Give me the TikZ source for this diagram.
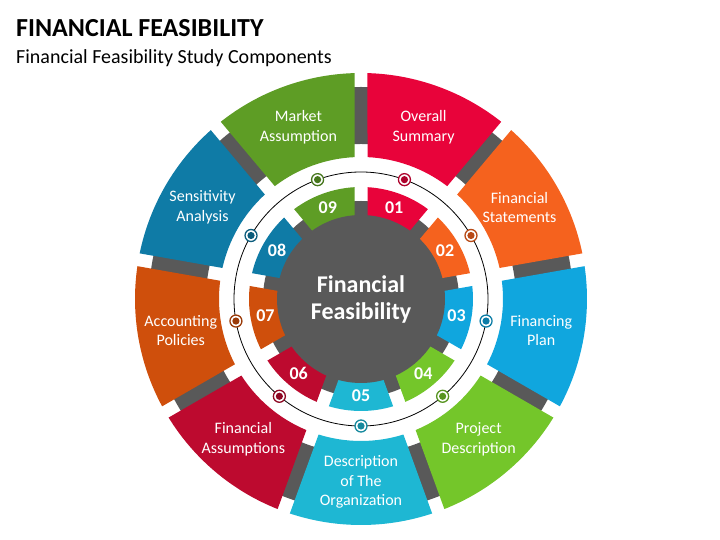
\documentclass[tikz,border=0pt]{standalone}
\usepackage{fontspec}
\setmainfont{Carlito}
\definecolor{SegRed}{RGB}{232,3,58}
\definecolor{SegOrange}{RGB}{245,98,30}
\definecolor{SegBlue}{RGB}{16,166,222}
\definecolor{SegGreen}{RGB}{116,198,42}
\definecolor{SegCyan}{RGB}{30,183,211}
\definecolor{SegWine}{RGB}{189,10,47}
\definecolor{SegRust}{RGB}{207,79,12}
\definecolor{SegTeal}{RGB}{15,123,166}
\definecolor{SegOlive}{RGB}{94,157,37}
\definecolor{mGrey}{HTML}{595959}
\colorlet{col1}{SegRed}
\colorlet{col2}{SegOrange}
\colorlet{col3}{SegBlue}
\colorlet{col4}{SegGreen}
\colorlet{col5}{SegCyan}
\colorlet{col6}{SegWine}
\colorlet{col7}{SegRust}
\colorlet{col8}{SegTeal}
\colorlet{col9}{SegOlive}
\colorlet{ColourBar}{mGrey}
\colorlet{ColourCore}{mGrey}
\tikzset{
  ring sector/.style n args={3}{
    insert path={
      ({#1-20+asin(6.5/#3)}:#3pt)
      arc[start angle={#1-20+asin(6.5/#3)}, end angle={#1+20-asin(6.5/#3)}, radius=#3pt]
      -- ({#1+20-asin(6.5/#2)}:#2pt)
      arc[start angle={#1+20-asin(6.5/#2)}, end angle={#1-20+asin(6.5/#2)}, radius=#2pt]
      -- cycle
    }
  },
  outer sector/.style={
    ring sector={#1}{142}{226},
  },
  inner sector/.style={
    ring sector={#1}{78}{112},
  },
  ring line/.style={
    draw=black,
    line width=0.8pt,
  },
  marker/.style={
    draw=#1!75!black,
    fill=white,
    line width=1.3pt,
    circle,
    inner sep=0pt,
    minimum size=12pt,
    path picture={\fill[#1!75!black] (path picture bounding box.center) circle (3.6pt);}
  },
  seg label/.style={
    text=white,
    align=center,
    font=\fontsize{16}{19.5}\selectfont,
  },
  seg number/.style={
    text=white,
    font=\bfseries\fontsize{18}{20}\selectfont,
  },
  core/.style={
    fill=ColourCore,
    circle,
    inner sep=0pt,
    minimum size=168pt,
    text=white,
    align=center,
    font=\bfseries\fontsize{24}{27}\selectfont,
  },
  title text/.style={
    anchor=base west,
    inner sep=0pt,
    font=\bfseries\fontsize{26}{30}\selectfont,
  },
  subtitle text/.style={
    anchor=base west,
    inner sep=0pt,
    font=\fontsize{20}{24}\selectfont,
  },
}

\begin{document}
\begin{tikzpicture}
  \useasboundingbox (0,0) rectangle (720pt,540pt);
  \node[title text] (title) at (16pt,503pt) {FINANCIAL FEASIBILITY};
  \node[subtitle text] (subtitle) at (16pt,476pt) {Financial Feasibility Study Components};

  \begin{scope}[shift={(361pt,241pt)}]
    % outer ring
    \fill[ColourBar, even odd rule] (0,0) circle (212pt) circle (155pt);
    \fill[col1, outer sector=70];
    \fill[col2, outer sector=30];
    \fill[col3, outer sector=-10];
    \fill[col4, outer sector=-50];
    \fill[col5, outer sector=-90];
    \fill[col6, outer sector=-130];
    \fill[col7, outer sector=-170];
    \fill[col8, outer sector=150];
    \fill[col9, outer sector=110];
    % inner ring
    \fill[ColourBar] (0,0) circle (98pt);
    \fill[col1, inner sector=70];
    \fill[col2, inner sector=30];
    \fill[col3, inner sector=-10];
    \fill[col4, inner sector=-50];
    \fill[col5, inner sector=-90];
    \fill[col6, inner sector=-130];
    \fill[col7, inner sector=-170];
    \fill[col8, inner sector=150];
    \fill[col9, inner sector=110];
    \node[core] (core) at (0,0) {Financial\\Feasibility};
    \draw[ring line] (0,0) circle (127pt);

    \node[marker=col1] (m1) at (70:127pt) {};
    \node[marker=col2] (m2) at (30:127pt) {};
    \node[marker=col3] (m3) at (-10:127pt) {};
    \node[marker=col4] (m4) at (-50:127pt) {};
    \node[marker=col5] (m5) at (-90:127pt) {};
    \node[marker=col6] (m6) at (-130:127pt) {};
    \node[marker=col7] (m7) at (-170:127pt) {};
    \node[marker=col8] (m8) at (150:127pt) {};
    \node[marker=col9] (m9) at (110:127pt) {};

    \node[seg number] (n1) at (70:97pt) {01};
    \node[seg number] (n2) at (30:97pt) {02};
    \node[seg number] (n3) at (-10:97pt) {03};
    \node[seg number] (n4) at (-50:97pt) {04};
    \node[seg number] (n5) at (-90:97pt) {05};
    \node[seg number] (n6) at (-130:97pt) {06};
    \node[seg number] (n7) at (-170:97pt) {07};
    \node[seg number] (n8) at (150:97pt) {08};
    \node[seg number] (n9) at (110:97pt) {09};

    \node[seg label] (s1) at (70:183pt) {Overall\\Summary};
    \node[seg label] (s2) at (30:183pt) {Financial\\Statements};
    \node[seg label] (s3) at (-10:183pt) {Financing\\Plan};
    \node[seg label] (s4) at (-50:183pt) {Project\\Description};
    \node[seg label] (s5) at (-90:183pt) {Description\\of The\\Organization};
    \node[seg label] (s6) at (-130:183pt) {Financial\\Assumptions};
    \node[seg label] (s7) at (-170:183pt) {Accounting\\Policies};
    \node[seg label] (s8) at (150:183pt) {Sensitivity\\Analysis};
    \node[seg label] (s9) at (110:183pt) {Market\\Assumption};
  \end{scope}
\end{tikzpicture}
\end{document}
